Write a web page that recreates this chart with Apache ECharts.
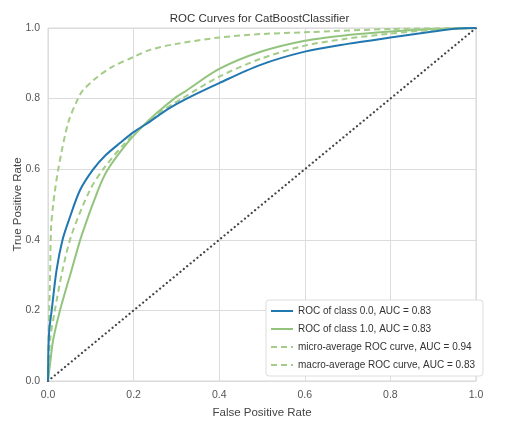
<!DOCTYPE html>
<html>
<head>
<meta charset="utf-8">
<script src="https://cdn.jsdelivr.net/npm/echarts@6/dist/echarts.min.js"></script>
<style>
html,body{margin:0;padding:0;background:#fff;}
#chart{width:519px;height:422px;}
</style>
</head>
<body>
<div id="chart"></div>
<script>
var titleText = 'ROC Curves for CatBoostClassifier';
var xName = 'False Positive Rate';
var yName = 'True Positive Rate';
var seriesNames = ['ROC of class 0.0, AUC = 0.83', 'ROC of class 1.0, AUC = 0.83', 'micro-average ROC curve, AUC = 0.94', 'macro-average ROC curve, AUC = 0.83'];

var fpr0 = [0, 0.001, 0.003, 0.0086, 0.02, 0.034, 0.05, 0.075, 0.106, 0.135, 0.168, 0.2, 0.238, 0.28, 0.324, 0.4, 0.495, 0.6, 0.7, 0.8, 0.9, 0.95, 1];
var tpr0 = [0, 0.088, 0.144, 0.2, 0.314, 0.4, 0.46, 0.541, 0.6, 0.64, 0.674, 0.705, 0.735, 0.77, 0.8, 0.844, 0.895, 0.933, 0.955, 0.973, 0.99, 0.998, 1];

var fpr1 = [0, 0.005, 0.012, 0.028, 0.055, 0.079, 0.117, 0.14, 0.185, 0.22, 0.254, 0.3, 0.32, 0.4, 0.495, 0.6, 0.7, 0.8, 0.9, 1];
var tpr1 = [0, 0.05, 0.116, 0.2, 0.314, 0.414, 0.541, 0.6, 0.674, 0.72, 0.759, 0.805, 0.82, 0.884, 0.932, 0.964, 0.98, 0.99, 0.997, 1];

var fprMicro = [0, 0.001, 0.003, 0.005, 0.007, 0.012, 0.024, 0.047, 0.07, 0.082, 0.114, 0.15, 0.2, 0.238, 0.3, 0.4, 0.5, 0.6, 0.8, 1];
var tprMicro = [0, 0.1, 0.2, 0.3, 0.428, 0.5, 0.6, 0.731, 0.8, 0.824, 0.86, 0.89, 0.918, 0.938, 0.955, 0.973, 0.983, 0.988, 0.997, 1];

var fprMacro = [0, 0.005, 0.016, 0.034, 0.055, 0.098, 0.129, 0.18, 0.246, 0.313, 0.4, 0.495, 0.6, 0.7, 0.8, 0.9, 1];
var tprMacro = [0, 0.116, 0.2, 0.314, 0.414, 0.541, 0.6, 0.674, 0.748, 0.8, 0.862, 0.912, 0.95, 0.97, 0.984, 0.995, 1];

var diagX = [0, 1];
var diagY = [0, 1];

function pairs(xs, ys) { return xs.map(function (x, i) { return [x, ys[i]]; }); }

var FONT = "'Liberation Sans', Arial, sans-serif";
var BLUE = '#2177b0';
var GREEN = '#93c47d';
var GREEN_D = '#a3cc87';

var chart = echarts.init(document.getElementById('chart'), null, {renderer: 'canvas'});
chart.setOption({
  animation: false,
  backgroundColor: '#fff',
  textStyle: {fontFamily: FONT},
  title: {
    text: titleText, left: 'center', top: 8,
    textStyle: {fontFamily: FONT, fontSize: 11.5, fontWeight: 'normal', color: '#333'}
  },
  grid: {left: 48, right: 43, top: 28, bottom: 41, show: true, borderColor: '#d6d6d6', borderWidth: 1, outerBoundsMode: 'none'},
  legend: {
    orient: 'vertical', left: 266, top: 300,
    data: seriesNames,
    itemWidth: 22, itemHeight: 10, itemGap: 8,
    padding: [6, 8, 6, 4],
    itemStyle: {opacity: 0},
    backgroundColor: '#fff', borderColor: '#ddd', borderWidth: 1, borderRadius: 3,
    textStyle: {fontFamily: FONT, fontSize: 10, color: '#333'}
  },
  xAxis: {
    type: 'value', min: 0, max: 1, interval: 0.2,
    name: xName, nameLocation: 'middle', nameGap: 26,
    nameTextStyle: {fontFamily: FONT, fontSize: 11.5, color: '#444'},
    axisLine: {show: false}, axisTick: {show: false},
    axisLabel: {fontFamily: FONT, fontSize: 10.5, color: '#555', margin: 9, formatter: function (v) { return v.toFixed(1); }},
    splitLine: {show: true, lineStyle: {color: '#dcdcdc', width: 1}}
  },
  yAxis: {
    type: 'value', min: 0, max: 1, interval: 0.2,
    name: yName, nameLocation: 'middle', nameGap: 24, nameMoveOverlap: false,
    nameTextStyle: {fontFamily: FONT, fontSize: 11.5, color: '#444'},
    axisLine: {show: false}, axisTick: {show: false},
    axisLabel: {fontFamily: FONT, fontSize: 10.5, color: '#555', margin: 8, formatter: function (v) { return v.toFixed(1); }},
    splitLine: {show: true, lineStyle: {color: '#dcdcdc', width: 1}}
  },
  series: [
    {name: seriesNames[0], type: 'line', data: pairs(fpr0, tpr0), symbol: 'none', smooth: 0.3, z: 4,
     lineStyle: {color: BLUE, width: 2}, itemStyle: {color: BLUE}},
    {name: seriesNames[1], type: 'line', data: pairs(fpr1, tpr1), symbol: 'none', smooth: 0.3, z: 3,
     lineStyle: {color: GREEN, width: 2}, itemStyle: {color: GREEN}},
    {name: seriesNames[2], type: 'line', data: pairs(fprMicro, tprMicro), symbol: 'none', smooth: 0.3, z: 3,
     lineStyle: {color: GREEN_D, width: 2, type: [6, 4]}, itemStyle: {color: GREEN_D}},
    {name: seriesNames[3], type: 'line', data: pairs(fprMacro, tprMacro), symbol: 'none', smooth: 0.3, z: 3,
     lineStyle: {color: GREEN_D, width: 2, type: [6, 4]}, itemStyle: {color: GREEN_D}},
    {name: 'diagonal', type: 'line', data: pairs(diagX, diagY), symbol: 'none', z: 2,
     lineStyle: {color: '#444', width: 2.2, type: [0.1, 4.3], cap: 'round'}}
  ]
});
</script>
</body>
</html>
